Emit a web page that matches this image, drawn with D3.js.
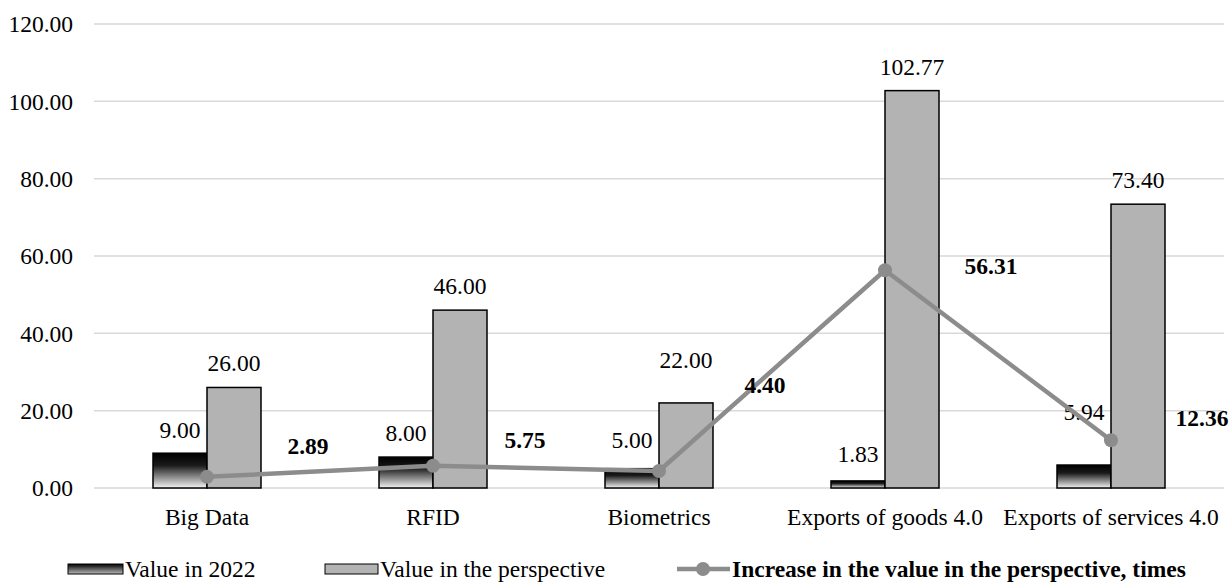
<!DOCTYPE html>
<html>
<head>
<meta charset="utf-8">
<script src="https://cdn.jsdelivr.net/npm/d3@7"></script>
<style>
  html, body { margin: 0; padding: 0; background: #fff; }
  svg { display: block; }
  svg text { font-family: "Liberation Serif", "Times New Roman", "DejaVu Serif", serif; fill: #000; }
</style>
</head>
<body>
<svg id="chart" width="1231" height="582"></svg>
<script>
// ---- data ----
const categories = ["Big Data", "RFID", "Biometrics", "Exports of goods 4.0", "Exports of services 4.0"];
const value2022 = [9.00, 8.00, 5.00, 1.83, 5.94];
const valuePerspective = [26.00, 46.00, 22.00, 102.77, 73.40];
const increaseTimes = [2.89, 5.75, 4.40, 56.31, 12.36];
const yTicks = [0, 20, 40, 60, 80, 100, 120];
const seriesNames = ["Value in 2022", "Value in the perspective", "Increase in the value in the perspective, times"];

// ---- layout (label nudges, px) ----
const darkLabelLift = [23, 24, 28, 27, 53];
const greyLabelLift = [24, 24, 43, 23, 24];
const lineLabelOffsets = [[101, -31], [92, -26], [106, -86], [106, -4], [91, -22]];

(function () {
const FONT = "Liberation Serif, Times New Roman, serif";
const svg = d3.select("#chart");
const fontSize = 23.5;
const pLeft = 94, pRight = 1224, pTop = 24, pBottom = 488;

const x0 = d3.scaleBand().domain(categories).range([pLeft, pRight]).paddingInner(0).paddingOuter(0);
const y = d3.scaleLinear().domain([0, 120]).range([pBottom, pTop]);
const barW = 54;
const x1 = d3.scaleBand().domain(["a", "b"]).range([-barW, barW]).padding(0);

// gradient
const defs = svg.append("defs");
const grad = defs.append("linearGradient").attr("id", "darkGrad")
  .attr("x1", 0).attr("y1", 0).attr("x2", 0).attr("y2", 1);
grad.append("stop").attr("offset", "0%").attr("stop-color", "#000");
grad.append("stop").attr("offset", "35%").attr("stop-color", "#1a1a1a");
grad.append("stop").attr("offset", "100%").attr("stop-color", "#f4f4f4");
const gradL = defs.append("linearGradient").attr("id", "darkGradLegend")
  .attr("x1", 0).attr("y1", 0).attr("x2", 0).attr("y2", 1);
gradL.append("stop").attr("offset", "0%").attr("stop-color", "#000");
gradL.append("stop").attr("offset", "100%").attr("stop-color", "#bbb");

// gridlines
svg.append("g").selectAll("line").data(yTicks).join("line")
  .attr("x1", pLeft).attr("x2", pRight)
  .attr("y1", d => y(d)).attr("y2", d => y(d))
  .attr("stroke", "#d9d9d9").attr("stroke-width", 1.5);

// y axis labels
const yAxis = d3.axisLeft(y).tickValues(yTicks).tickFormat(d3.format(".2f")).tickSize(0).tickPadding(0);
const gy = svg.append("g").attr("transform", `translate(73,0)`).call(yAxis);
gy.attr("font-family", FONT);
gy.select(".domain").remove();
gy.selectAll("text").attr("font-size", fontSize).attr("fill", "#000")
  .attr("font-family", FONT).attr("dy", "0.33em");

// x axis labels
const xAxis = d3.axisBottom(x0).tickSize(0).tickPadding(0);
const gx = svg.append("g").attr("transform", `translate(0,${pBottom})`).call(xAxis);
gx.attr("font-family", FONT);
gx.select(".domain").remove();
gx.selectAll("text").attr("font-size", fontSize).attr("fill", "#000")
  .attr("font-family", FONT).attr("dy", null).attr("y", 37);

// bars
const groups = svg.append("g").selectAll("g").data(categories).join("g")
  .attr("transform", d => `translate(${x0(d) + x0.bandwidth() / 2},0)`);

groups.append("rect")
  .attr("x", x1("a")).attr("width", x1.bandwidth())
  .attr("y", (d, i) => y(value2022[i])).attr("height", (d, i) => y(0) - y(value2022[i]))
  .attr("fill", "url(#darkGrad)").attr("stroke", "#000").attr("stroke-width", 1.5);

groups.append("rect")
  .attr("x", x1("b")).attr("width", x1.bandwidth())
  .attr("y", (d, i) => y(valuePerspective[i])).attr("height", (d, i) => y(0) - y(valuePerspective[i]))
  .attr("fill", "#b3b3b3").attr("stroke", "#000").attr("stroke-width", 1.5);

// bar labels
groups.append("text")
  .attr("x", x1("a") + x1.bandwidth() / 2)
  .attr("y", (d, i) => y(value2022[i]) - darkLabelLift[i])
  .attr("dy", "0.33em").attr("text-anchor", "middle").attr("font-size", fontSize)
  .attr("font-family", FONT)
  .text((d, i) => value2022[i].toFixed(2));

groups.append("text")
  .attr("x", x1("b") + x1.bandwidth() / 2)
  .attr("y", (d, i) => y(valuePerspective[i]) - greyLabelLift[i])
  .attr("dy", "0.33em").attr("text-anchor", "middle").attr("font-size", fontSize)
  .attr("font-family", FONT)
  .text((d, i) => valuePerspective[i].toFixed(2));

// line
const lineColor = "#8c8c8c";
const cx = (d, i) => x0(categories[i]) + x0.bandwidth() / 2;
const line = d3.line().x(cx).y(d => y(d));
svg.append("path").datum(increaseTimes)
  .attr("d", line).attr("fill", "none").attr("stroke", lineColor).attr("stroke-width", 4.5)
  .attr("stroke-linejoin", "round");
svg.append("g").selectAll("circle").data(increaseTimes).join("circle")
  .attr("cx", cx).attr("cy", d => y(d)).attr("r", 7).attr("fill", lineColor);

svg.append("g").selectAll("text").data(increaseTimes).join("text")
  .attr("x", (d, i) => cx(d, i) + lineLabelOffsets[i][0])
  .attr("y", (d, i) => y(d) + lineLabelOffsets[i][1])
  .attr("dy", "0.33em").attr("text-anchor", "middle").attr("font-size", fontSize)
  .attr("font-weight", "bold").attr("font-family", FONT)
  .text(d => d.toFixed(2));

// legend
const leg = svg.append("g").attr("font-family", FONT);
const ly = 569;
leg.append("rect").attr("x", 68).attr("y", ly - 5).attr("width", 55).attr("height", 10)
  .attr("fill", "url(#darkGradLegend)").attr("stroke", "#000").attr("stroke-width", 1);
leg.append("text").attr("x", 125).attr("y", ly).attr("dy", "0.33em").attr("font-size", fontSize)
  .attr("font-family", FONT).text(seriesNames[0]);
leg.append("rect").attr("x", 325).attr("y", ly - 5).attr("width", 53).attr("height", 10)
  .attr("fill", "#b3b3b3").attr("stroke", "#000").attr("stroke-width", 1);
leg.append("text").attr("x", 380).attr("y", ly).attr("dy", "0.33em").attr("font-size", fontSize)
  .attr("font-family", FONT).text(seriesNames[1]);
leg.append("line").attr("x1", 677).attr("x2", 730).attr("y1", ly).attr("y2", ly)
  .attr("stroke", lineColor).attr("stroke-width", 4.5);
leg.append("circle").attr("cx", 703).attr("cy", ly).attr("r", 7).attr("fill", lineColor);
leg.append("text").attr("x", 732).attr("y", ly).attr("dy", "0.33em").attr("font-size", fontSize)
  .attr("font-weight", "bold").attr("font-family", FONT).text(seriesNames[2]);
})();
</script>
</body>
</html>
